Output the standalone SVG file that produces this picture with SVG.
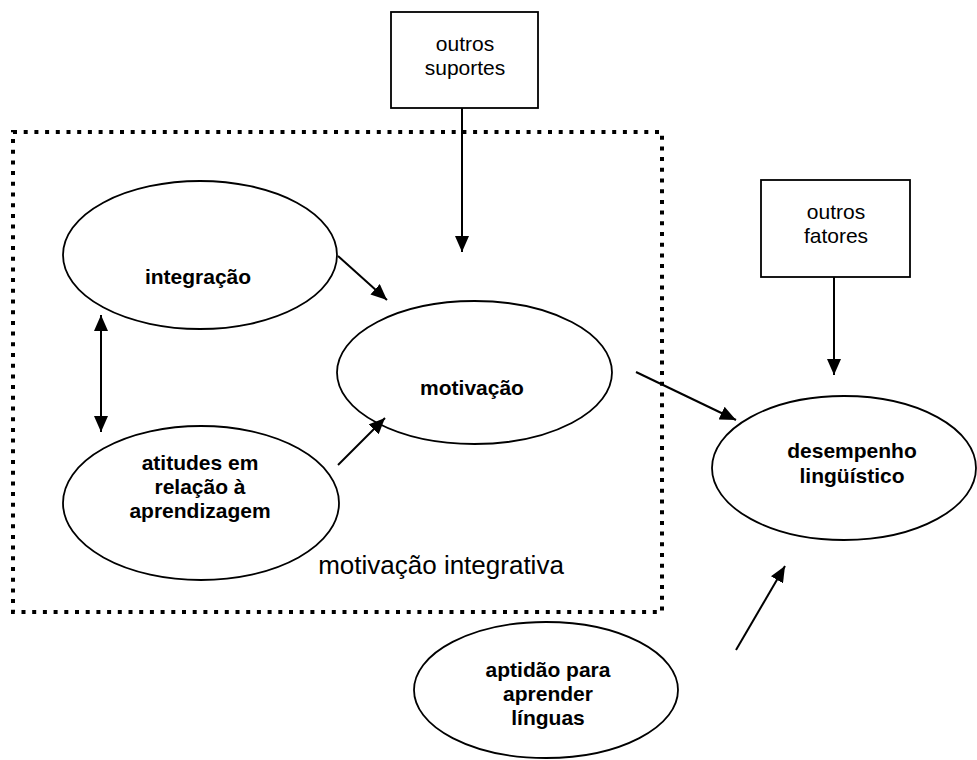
<svg xmlns="http://www.w3.org/2000/svg" width="977" height="760" viewBox="0 0 977 760">
<style>
.n{fill:#fff;stroke:#000;stroke-width:1.8}
.b{font-family:"Liberation Sans",Arial,sans-serif;font-weight:bold;font-size:21px;text-anchor:middle;fill:#000}
.r{font-family:"Liberation Sans",Arial,sans-serif;font-size:21px;text-anchor:middle;fill:#000}
.c{fill:none;stroke:#000;stroke-width:2}
</style>
<defs>
<marker id="ah" markerUnits="userSpaceOnUse" markerWidth="16" markerHeight="14" refX="16" refY="7" orient="auto-start-reverse">
<path d="M0,0 L16,7 L0,14 z" fill="#000"/>
</marker>
</defs>
<rect id="frame" x="13" y="132" width="649" height="480" fill="none" stroke="#000" stroke-width="4" stroke-dasharray="4 6.7"/>
<text class="r" x="441" y="574" style="font-size:26px">motivação integrativa</text>
<g id="suportes"><rect class="n" x="391" y="12" width="147" height="96"/><text class="r" x="465" y="51">outros</text><text class="r" x="465" y="75">suportes</text></g>
<g id="fatores"><rect class="n" x="761" y="180" width="149" height="97"/><text class="r" x="836" y="219">outros</text><text class="r" x="836" y="243">fatores</text></g>
<g id="integracao"><ellipse class="n" cx="200" cy="255" rx="137" ry="74"/><text class="b" x="198" y="284">integração</text></g>
<g id="atitudes"><ellipse class="n" cx="201" cy="503" rx="138" ry="77"/><text class="b" x="200" y="470">atitudes em</text><text class="b" x="200" y="494">relação à</text><text class="b" x="200" y="518">aprendizagem</text></g>
<g id="motivacao"><ellipse class="n" cx="474.5" cy="372.5" rx="137.5" ry="71.5"/><text class="b" x="472" y="395">motivação</text></g>
<g id="desempenho"><ellipse class="n" cx="844" cy="468" rx="132" ry="72"/><text class="b" x="852" y="458">desempenho</text><text class="b" x="852" y="483">lingüístico</text></g>
<g id="aptidao"><ellipse class="n" cx="546" cy="690" rx="132" ry="68"/><text class="b" x="548" y="677">aptidão para</text><text class="b" x="548" y="701">aprender</text><text class="b" x="548" y="725">línguas</text></g>
<g id="connectors">
<line class="c" x1="462" y1="108" x2="462" y2="252" marker-end="url(#ah)"/>
<line class="c" x1="834" y1="277" x2="834" y2="375" marker-end="url(#ah)"/>
<line class="c" x1="338" y1="256" x2="387" y2="300" marker-end="url(#ah)"/>
<line class="c" x1="338" y1="465" x2="385" y2="418" marker-end="url(#ah)"/>
<line class="c" x1="101" y1="315" x2="101" y2="432" marker-start="url(#ah)" marker-end="url(#ah)"/>
<line class="c" x1="636" y1="372" x2="736" y2="420" marker-end="url(#ah)"/>
<line class="c" x1="736" y1="650" x2="785" y2="566" marker-end="url(#ah)"/>
</g>
</svg>
